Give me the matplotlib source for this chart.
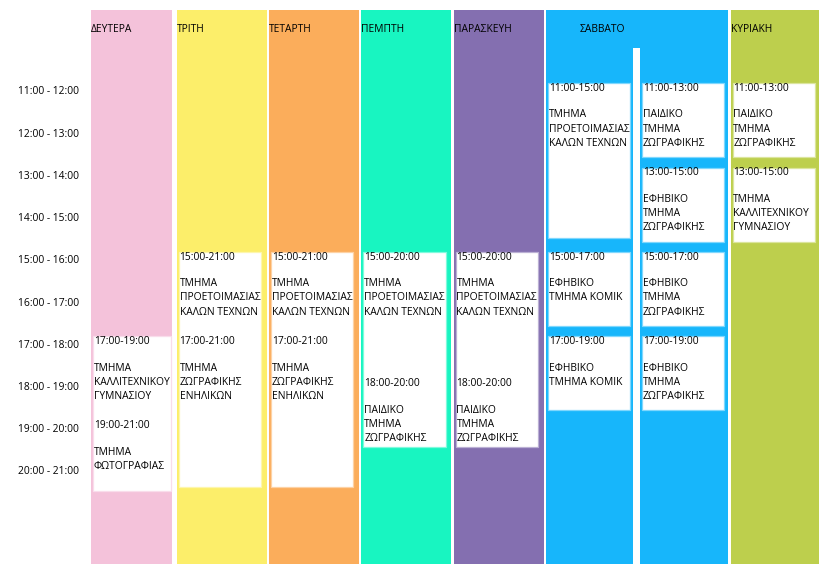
import matplotlib
matplotlib.use("Agg")
import matplotlib.pyplot as plt
from matplotlib.patches import Rectangle
from matplotlib.colors import to_rgb

plt.rcParams['font.family'] = ['Open Sans', 'DejaVu Sans']

# columns (slot positions), Saturday spans two slots
days = ['ΔΕΥΤΕΡΑ', 'ΤΡΙΤΗ', 'ΤΕΤΑΡΤΗ', 'ΠΕΜΠΤΗ', 'ΠΑΡΑΣΚΕΥΗ', 'ΣΑΒΒΑΤΟ', 'ΚΥΡΙΑΚΗ']
day_slot = [0, 1, 2, 3, 4, 5, 7]
day_span = [1, 1, 1, 1, 1, 2, 1]
day_colors = ['#f4c2da', '#fcee6a', '#fbad5b', '#18f5c1', '#846fb0', '#17b6fb', '#bdcf4d']

hours = list(range(11, 21))

# white boxes
box_slot = [0, 1, 2, 3, 4, 5, 5, 5, 6, 6, 6, 6, 7, 7]
box_start = [17, 15, 15, 15, 15, 11, 15, 17, 11, 13, 15, 17, 11, 13]
box_end = [21, 21, 21, 20, 20, 15, 17, 19, 13, 15, 17, 19, 13, 15]

# class entries
entry_slot = [0, 0, 1, 1, 2, 2, 3, 3, 4, 4, 5, 5, 5, 6, 6, 6, 6, 7, 7]
entry_start = [17, 19, 15, 17, 15, 17, 15, 18, 15, 18, 11, 15, 17, 11, 13, 15, 17, 11, 13]
entry_end = [19, 21, 21, 21, 21, 21, 20, 20, 20, 20, 15, 17, 19, 13, 15, 17, 19, 13, 15]
entry_text = [
    'ΤΜΗΜΑ\nΚΑΛΛΙΤΕΧΝΙΚΟΥ\nΓΥΜΝΑΣΙΟΥ', 'ΤΜΗΜΑ\nΦΩΤΟΓΡΑΦΙΑΣ',
    'ΤΜΗΜΑ\nΠΡΟΕΤΟΙΜΑΣΙΑΣ\nΚΑΛΩΝ ΤΕΧΝΩΝ', 'ΤΜΗΜΑ\nΖΩΓΡΑΦΙΚΗΣ\nΕΝΗΛΙΚΩΝ',
    'ΤΜΗΜΑ\nΠΡΟΕΤΟΙΜΑΣΙΑΣ\nΚΑΛΩΝ ΤΕΧΝΩΝ', 'ΤΜΗΜΑ\nΖΩΓΡΑΦΙΚΗΣ\nΕΝΗΛΙΚΩΝ',
    'ΤΜΗΜΑ\nΠΡΟΕΤΟΙΜΑΣΙΑΣ\nΚΑΛΩΝ ΤΕΧΝΩΝ', 'ΠΑΙΔΙΚΟ\nΤΜΗΜΑ\nΖΩΓΡΑΦΙΚΗΣ',
    'ΤΜΗΜΑ\nΠΡΟΕΤΟΙΜΑΣΙΑΣ\nΚΑΛΩΝ ΤΕΧΝΩΝ', 'ΠΑΙΔΙΚΟ\nΤΜΗΜΑ\nΖΩΓΡΑΦΙΚΗΣ',
    'ΤΜΗΜΑ\nΠΡΟΕΤΟΙΜΑΣΙΑΣ\nΚΑΛΩΝ ΤΕΧΝΩΝ', 'ΕΦΗΒΙΚΟ\nΤΜΗΜΑ ΚΟΜΙΚ', 'ΕΦΗΒΙΚΟ\nΤΜΗΜΑ ΚΟΜΙΚ',
    'ΠΑΙΔΙΚΟ\nΤΜΗΜΑ\nΖΩΓΡΑΦΙΚΗΣ', 'ΕΦΗΒΙΚΟ\nΤΜΗΜΑ\nΖΩΓΡΑΦΙΚΗΣ',
    'ΕΦΗΒΙΚΟ\nΤΜΗΜΑ\nΖΩΓΡΑΦΙΚΗΣ', 'ΕΦΗΒΙΚΟ\nΤΜΗΜΑ\nΖΩΓΡΑΦΙΚΗΣ',
    'ΠΑΙΔΙΚΟ\nΤΜΗΜΑ\nΖΩΓΡΑΦΙΚΗΣ', 'ΤΜΗΜΑ\nΚΑΛΛΙΤΕΧΝΙΚΟΥ\nΓΥΜΝΑΣΙΟΥ',
]

W, H = 819, 579
fig = plt.figure(figsize=(W / 100, H / 100), dpi=100)
ax = fig.add_axes([0, 0, 1, 1])
slot_w = 92.3
x0 = 84.5
ax.set_xlim(-x0 / slot_w, (W - x0) / slot_w)
ax.set_ylim(22.75, 9.03)
ax.axis('off')

col_top, col_bot = 9.27, 22.4
txt = '#000000'
fs = 7.4


def col_extent(s):
    # left / right edge (in slots) of the coloured area holding slot s
    if s == 0:
        return 0.07, 0.95
    if s == 5:
        return 5, 5.945
    if s == 6:
        return 6.02, 6.965
    return s, s + 0.975


def tint(c, f=0.45):
    r, g, b = to_rgb(c)
    return (r + (1 - r) * f, g + (1 - g) * f, b + (1 - b) * f)


for name, s, span, c in zip(days, day_slot, day_span, day_colors):
    left = col_extent(s)[0]
    right = s + span - 0.025 if s != 0 else 0.95
    if s == 7:
        right = 9
    ax.add_patch(Rectangle((left, col_top), right - left, col_bot - col_top, color=c, lw=0))
    hx = left + 0.36 if name == 'ΣΑΒΒΑΤΟ' else left
    ax.text(hx, 9.72, name, fontsize=fs, color=txt, va='center', ha='left')

# white divider inside Saturday
ax.add_patch(Rectangle((5.945, 10.17), 0.075, col_bot - 10.17, color='white', lw=0))

for h in hours:
    ax.text((79 - x0) / slot_w, h + 0.21, f'{h}:00 - {h + 1}:00',
            fontsize=fs, color=txt, ha='right', va='center')

slot_color = {0: 0, 1: 1, 2: 2, 3: 3, 4: 4, 5: 5, 6: 5, 7: 6}
for s, b0, b1 in zip(box_slot, box_start, box_end):
    left, right = col_extent(s)
    bl = left + 0.022
    bw = min(0.89, right - 0.01 - bl)
    height = (b1 - b0) * 0.954 - 0.154
    ax.add_patch(Rectangle((bl, b0), bw, height, facecolor='white',
                           edgecolor=tint(day_colors[slot_color[s]]), lw=0.9))

for s, a, b, t in zip(entry_slot, entry_start, entry_end, entry_text):
    left = col_extent(s)[0] + 0.03
    ax.text(left, a + 0.12, f'{a}:00-{b}:00', fontsize=fs, color=txt,
            ha='left', va='center')
    ax.text(left, a + 0.12 + 0.5, t, fontsize=fs, color=txt,
            ha='left', va='top', linespacing=1.4)

fig.savefig('out.png', dpi=100)
